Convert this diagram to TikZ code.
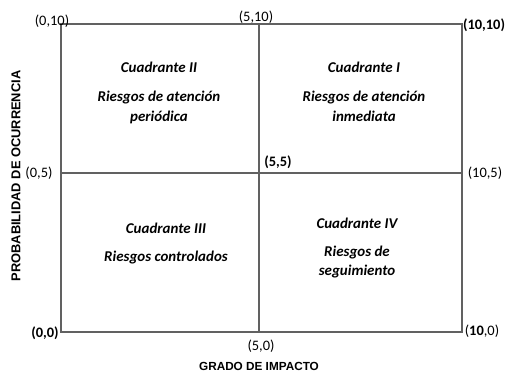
\documentclass[tikz,border=0pt]{standalone}
\usepackage{fontspec}
\setmainfont{Carlito}
\newfontfamily\axisfont{Liberation Sans}
\begin{document}
\begin{tikzpicture}[x=1bp,y=-1bp,
  gridline/.style={draw=black!62, line width=1.5bp},
  coord/.style={inner sep=0pt, font=\fontsize{14.5}{16}\selectfont},
  quad/.style={inner sep=0pt, align=center, font=\fontsize{15}{20}\selectfont\bfseries\itshape},
  axis/.style={inner sep=0pt, font=\axisfont\bfseries\fontsize{11.8}{13}\selectfont}]
\useasboundingbox (0,0) rectangle (508,372);
\fill[white] (0,0) rectangle (508,372);
% frame corners
\coordinate (TL) at (61,24);
\coordinate (TR) at (462,24);
\coordinate (BL) at (61,332);
\coordinate (BR) at (462,332);
\coordinate (TM) at (259,24);
\coordinate (BM) at (259,332);
\coordinate (LM) at (61,173);
\coordinate (RM) at (462,173);
\draw[gridline] (TL) -- (TR) -- (BR) -- (BL) -- cycle;
\draw[gridline] (TM) -- (BM);
\draw[gridline] (LM) -- (RM);
% coordinate labels
\node[coord] (c010) at (52,21) {(0,10)};
\node[coord] (c510) at (256,17) {(5,10)};
\node[coord] (c1010) at (484,25) {\textbf{(10,10)}};
\node[coord] (c05) at (39,173) {(0,5)};
\node[coord] (c55) at (278,162) {\textbf{(5,5)}};
\node[coord] (c105) at (485,173) {(10,5)};
\node[coord] (c00) at (45,333) {\textbf{(0,0)}};
\node[coord] (c50) at (261,346) {(5,0)};
\node[coord] (c100) at (482,331) {(\textbf{10},0)};
% quadrant texts
\node[quad] (q2a) at (159,67) {Cuadrante II};
\node[quad] (q2b) at (159,107) {Riesgos de atención\\periódica};
\node[quad] (q1a) at (364,67) {Cuadrante I};
\node[quad] (q1b) at (364,106) {Riesgos de atención\\inmediata};
\node[quad] (q3a) at (166,228) {Cuadrante III};
\node[quad] (q3b) at (166,258) {Riesgos controlados};
\node[quad] (q4a) at (357,223) {Cuadrante IV};
\node[quad] (q4b) at (357,262) {Riesgos de\\seguimiento};
% axis titles
\node[axis] (xt) at (259,366) {GRADO DE IMPACTO};
\node[axis, rotate=90] (yt) at (16,176) {\fontsize{12.9}{14}\selectfont PROBABILIDAD DE OCURRENCIA};
\end{tikzpicture}
\end{document}
